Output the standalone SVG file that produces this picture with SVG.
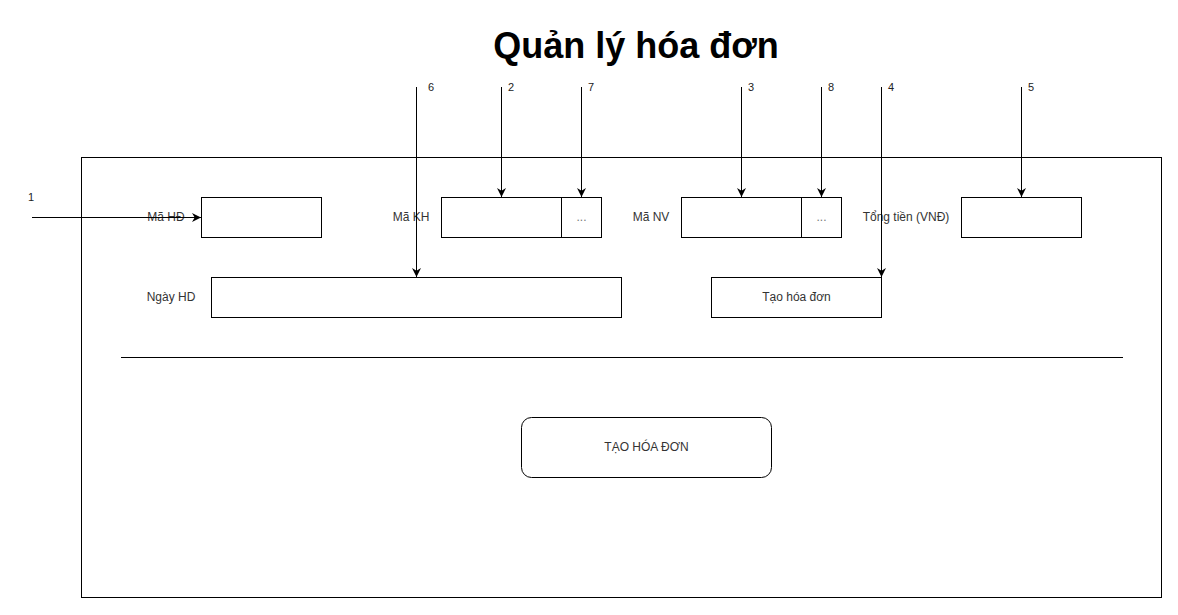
<svg xmlns="http://www.w3.org/2000/svg" width="1178" height="615" viewBox="0 0 1178 615">
<style>
.box{fill:#fff;stroke:#000;stroke-width:1}
.lbl{font-family:"Liberation Sans",Arial,sans-serif;font-size:12px;fill:#333}
.num{font-family:"Liberation Sans",Arial,sans-serif;font-size:11px;fill:#222}
.conn{stroke:#000;stroke-width:1;fill:none;marker-end:url(#arr)}
</style>
<defs>
<marker id="arr" viewBox="0 0 10 10" refX="10" refY="5" markerWidth="9" markerHeight="9" markerUnits="userSpaceOnUse" orient="auto">
<path d="M0,0 L10,5 L0,10 L3,5 Z" fill="#000"/>
</marker>
</defs>
<rect width="1178" height="615" fill="#fff"/>
<g id="title"><text x="636" y="58" text-anchor="middle" font-family="Liberation Sans,Arial,sans-serif" font-size="36" font-weight="bold" fill="#000">Quản lý hóa đơn</text></g>
<g id="frame"><rect class="box" x="81.5" y="157.5" width="1080" height="440"/></g>
<g id="separator"><line x1="121" y1="357.5" x2="1123" y2="357.5" stroke="#000"/></g>
<g id="maHD"><text class="lbl" x="166" y="221" text-anchor="middle">Mã HĐ</text><rect class="box" x="201.5" y="197.5" width="120" height="40"/></g>
<g id="maKH"><text class="lbl" x="411" y="221" text-anchor="middle">Mã KH</text><rect class="box" x="441.5" y="197.5" width="120" height="40"/></g>
<g id="maKHbtn"><rect class="box" x="561.5" y="197.5" width="40" height="40"/><text class="lbl" x="581.5" y="221" text-anchor="middle" style="fill:#777">...</text></g>
<g id="maNV"><text class="lbl" x="651" y="221" text-anchor="middle">Mã NV</text><rect class="box" x="681.5" y="197.5" width="120" height="40"/></g>
<g id="maNVbtn"><rect class="box" x="801.5" y="197.5" width="40" height="40"/><text class="lbl" x="821.5" y="221" text-anchor="middle" style="fill:#777">...</text></g>
<g id="tongTien"><text class="lbl" x="906" y="221" text-anchor="middle">Tổng tiền (VNĐ)</text><rect class="box" x="961.5" y="197.5" width="120" height="40"/></g>
<g id="ngayHD"><text class="lbl" x="171" y="301" text-anchor="middle">Ngày HD</text><rect class="box" x="211.5" y="277.5" width="410" height="40"/></g>
<g id="taoHoaDon"><rect class="box" x="711.5" y="277.5" width="170" height="40"/><text class="lbl" x="796.5" y="301" text-anchor="middle">Tạo hóa đơn</text></g>
<g id="btnTao"><rect class="box" x="521.5" y="417.5" width="250" height="60" rx="10"/><text class="lbl" x="646.5" y="451" text-anchor="middle">TẠO HÓA ĐƠN</text></g>
<g id="connectors">
<line class="conn" x1="32" y1="217.5" x2="201" y2="217.5"/>
<line class="conn" x1="416.5" y1="87" x2="416.5" y2="277"/>
<line class="conn" x1="501.5" y1="87" x2="501.5" y2="197"/>
<line class="conn" x1="581.5" y1="87" x2="581.5" y2="197"/>
<line class="conn" x1="741.5" y1="87" x2="741.5" y2="197"/>
<line class="conn" x1="821.5" y1="87" x2="821.5" y2="197"/>
<line class="conn" x1="881.5" y1="87" x2="881.5" y2="277"/>
<line class="conn" x1="1021.5" y1="87" x2="1021.5" y2="197"/>
</g>
<g id="numbers">
<text class="num" x="31" y="201" text-anchor="middle">1</text>
<text class="num" x="431" y="91" text-anchor="middle">6</text>
<text class="num" x="511" y="91" text-anchor="middle">2</text>
<text class="num" x="591" y="91" text-anchor="middle">7</text>
<text class="num" x="751" y="91" text-anchor="middle">3</text>
<text class="num" x="831" y="91" text-anchor="middle">8</text>
<text class="num" x="891" y="91" text-anchor="middle">4</text>
<text class="num" x="1031" y="91" text-anchor="middle">5</text>
</g>
</svg>
